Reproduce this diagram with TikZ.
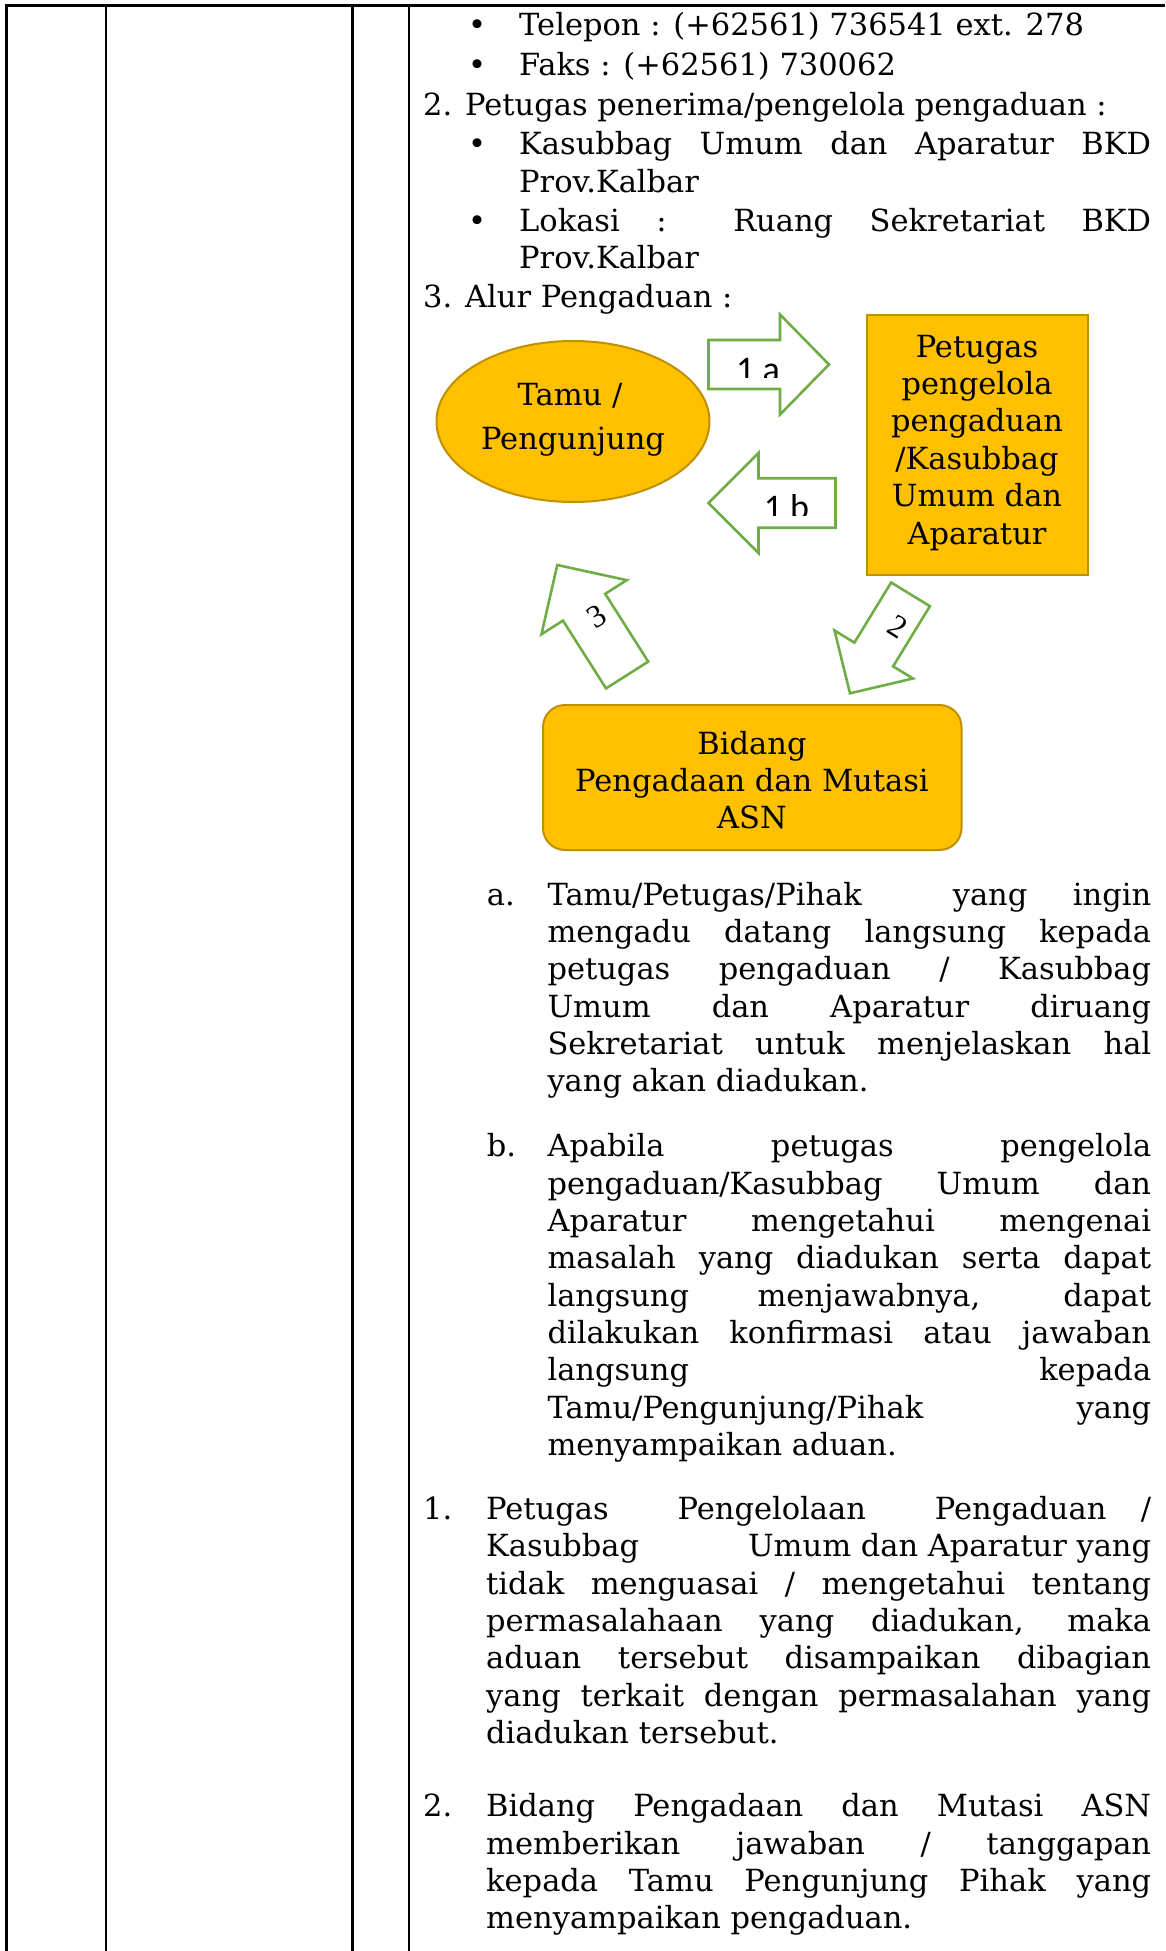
\documentclass[tikz,border=0pt]{standalone}
\usepackage{fontspec}
\setmainfont{DejaVu Serif}
\newfontfamily\lblfont{Carlito}
\newfontfamily\numfont{Liberation Serif}
\usetikzlibrary{shapes.geometric}
\definecolor{gold}{HTML}{FFC000}
\definecolor{goldline}{HTML}{BF9000}
\definecolor{arrowgreen}{HTML}{70AD47}
\newcommand\bodysize{\fontsize{30.5pt}{37pt}\selectfont}
% plain line: name, x, y, text
\newcommand\tl[4]{\node[txt] (#1) at (#2,#3) {#4};}
% justified line: name, x, y, width, text
\newcommand\jl[5]{\node[txt] (#1) at (#2,#3) {\makebox[#4pt][s]{#5}};}
% centred line: name, x, y, text
\newcommand\cl[4]{\node[ctxt] (#1) at (#2,#3) {#4};}
% block arrow: tip x, tip y, angle, length, head length, head half width, shaft half width
\newcommand\blockarrow[7]{%
  \begin{scope}[shift={(#1,#2)}, rotate=#3]
    \draw[arrowshape] (0,0) -- (-#5,#6) -- (-#5,#7) -- (-#4,#7) -- (-#4,-#7) -- (-#5,-#7) -- (-#5,-#6) -- cycle;
  \end{scope}}
\tikzset{
  txt/.style={inner sep=0pt, anchor=base west, font=\bodysize},
  ctxt/.style={inner sep=0pt, anchor=base, font=\bodysize},
  grid/.style={line width=2.7pt, black},
  goldshape/.style={draw=goldline, fill=gold, line width=2pt, inner sep=0pt},
  arrowshape/.style={draw=arrowgreen, fill=white, line width=2.6pt, miter limit=10},
  lbl/.style={inner sep=0pt, anchor=base, font=\lblfont\fontsize{36pt}{40pt}\selectfont},
  rlbl/.style={inner sep=0pt, anchor=center, font=\numfont\fontsize{32pt}{36pt}\selectfont},
}
\begin{document}
\begin{tikzpicture}[x=1pt,y=-1pt]
\useasboundingbox (0,0) rectangle (1165,1951);
\fill[white] (0,0) rectangle (1165,1951);

% table rules
\draw[grid] (4.9,5.3) -- (1165,5.3);
\draw[grid] (6.2,4) -- (6.2,1951);
\draw[grid] (106,4) -- (106,1951);
\draw[grid] (352.3,4) -- (352.3,1951);
\draw[grid] (409,4) -- (409,1951);

% top text
\cl{b1}{477}{36}{•}
\tl{t1}{519}{36}{Telepon : (+62561) 736541 ext. 278}
\cl{b2}{477}{76}{•}
\tl{t2}{519}{76}{Faks : (+62561) 730062}
\tl{t3}{423}{115}{2. Petugas penerima/pengelola pengaduan :}
\cl{b3}{477}{154}{•}
\jl{t4}{519}{154}{632}{Kasubbag Umum dan Aparatur BKD}
\tl{t5}{519}{192}{Prov.Kalbar}
\cl{b4}{477}{231}{•}
\jl{t6}{519}{231}{632}{Lokasi : Ruang Sekretariat BKD}
\tl{t7}{519}{268}{Prov.Kalbar}
\tl{t8}{423}{307}{3. Alur Pengaduan :}

% diagram shapes
\node[goldshape, ellipse, minimum width=273pt, minimum height=161pt] (tamu) at (573,421.5) {};
\node[goldshape, rectangle, minimum width=221pt, minimum height=260.5pt] (petugas) at (977.5,444.75) {};
\node[goldshape, rectangle, rounded corners=22pt, minimum width=418.5pt, minimum height=145pt] (bidang) at (752.25,777.5) {};

\cl{e1}{570}{405}{Tamu /}
\cl{e2}{573}{449}{Pengunjung}

\cl{r1}{977}{357}{Petugas}
\cl{r2}{977}{394}{pengelola}
\cl{r3}{977}{431.5}{pengaduan}
\cl{r4}{977}{469}{/Kasubbag}
\cl{r5}{977}{506.5}{Umum dan}
\cl{r6}{977}{544}{Aparatur}

\cl{d1}{752}{754}{Bidang}
\cl{d2}{752}{791}{Pengadaan dan Mutasi}
\cl{d3}{752}{828}{ASN}

% block arrows
\blockarrow{829}{364.5}{0}{120.5}{49}{50}{24.5}
\blockarrow{708.5}{503}{180}{127}{50}{50}{24.75}
\blockarrow{557.3}{565}{122.4}{130.3}{50}{50.5}{25}
\blockarrow{850}{693.3}{-121.45}{116}{45.5}{46}{22.7}

\begin{scope}
  \clip (700,300) rectangle (845,377);
  \node[lbl] (l1a) at (758,381) {1 a};
\end{scope}
\begin{scope}
  \clip (700,440) rectangle (845,515);
  \node[lbl] (l1b) at (786.5,519) {1 b};
\end{scope}
\node[rlbl, rotate=32] (l3) at (596.7,616.7) {3};
\node[rlbl, rotate=-32] (l2) at (898,626.7) {2};

% item a
\tl{a0}{486.7}{905}{a.}
\jl{a1}{547.3}{905}{603.7}{Tamu/Petugas/Pihak\ \ yang ingin}
\jl{a2}{547.3}{942.3}{603.7}{mengadu datang langsung kepada}
\jl{a3}{547.3}{979.7}{603.7}{petugas pengaduan / Kasubbag}
\jl{a4}{547.3}{1017}{603.7}{Umum dan Aparatur diruang}
\jl{a5}{547.3}{1054.4}{603.7}{Sekretariat untuk menjelaskan hal}
\tl{a6}{547.3}{1091.7}{yang akan diadukan.}

% item b
\tl{b0}{486.7}{1156.7}{b.}
\jl{bb1}{547.3}{1156.7}{603.7}{Apabila petugas pengelola}
\jl{bb2}{547.3}{1194.05}{603.7}{pengaduan/Kasubbag Umum dan}
\jl{bb3}{547.3}{1231.4}{603.7}{Aparatur mengetahui mengenai}
\jl{bb4}{547.3}{1268.75}{603.7}{masalah yang diadukan serta dapat}
\jl{bb5}{547.3}{1306.1}{603.7}{langsung menjawabnya, dapat}
\jl{bb6}{547.3}{1343.45}{603.7}{dilakukan konfirmasi atau jawaban}
\jl{bb7}{547.3}{1380.8}{603.7}{langsung kepada}
\jl{bb8}{547.3}{1418.15}{603.7}{Tamu/Pengunjung/Pihak yang}
\tl{bb9}{547.3}{1455.5}{menyampaikan aduan.}

% item 1
\tl{n1}{423}{1519.5}{1.}
\jl{p1}{486}{1519.5}{665}{Petugas\ \ Pengelolaan\ \ Pengaduan /}
\jl{p2}{486}{1556.8}{665}{Kasubbag\hfill Umum dan Aparatur yang}
\jl{p3}{486}{1594.1}{665}{tidak menguasai / mengetahui tentang}
\jl{p4}{486}{1631.4}{665}{permasalahaan yang diadukan, maka}
\jl{p5}{486}{1668.7}{665}{aduan tersebut disampaikan dibagian}
\jl{p6}{486}{1706}{665}{yang terkait dengan permasalahan yang}
\tl{p7}{486}{1743.3}{diadukan tersebut.}

% item 2
\tl{n2}{423}{1816.7}{2.}
\jl{q1}{486}{1816.7}{665}{Bidang Pengadaan dan Mutasi ASN}
\jl{q2}{486}{1854}{665}{memberikan jawaban / tanggapan}
\jl{q3}{486}{1891.3}{665}{kepada Tamu Pengunjung Pihak yang}
\tl{q4}{486}{1928.6}{menyampaikan pengaduan.}
\end{tikzpicture}
\end{document}
